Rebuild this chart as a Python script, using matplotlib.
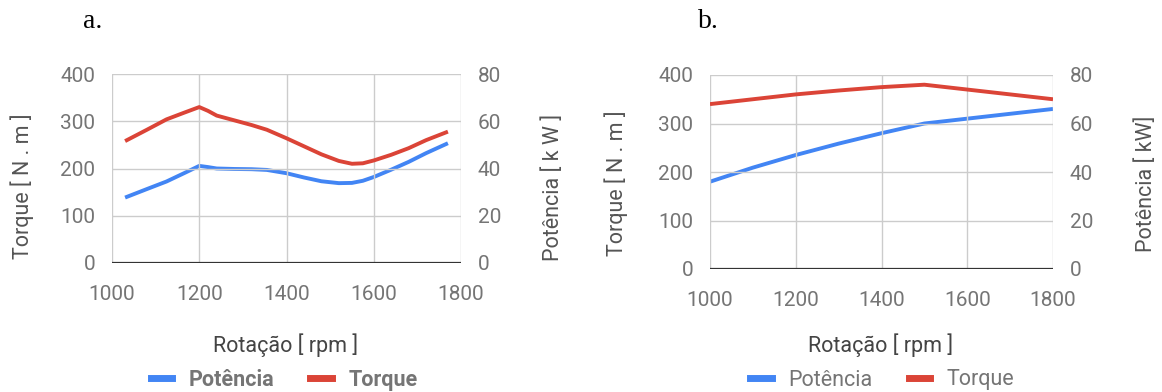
import matplotlib
matplotlib.use("Agg")
import matplotlib.pyplot as plt
from matplotlib.lines import Line2D

# ---------------- data ----------------
rpm_a = [1030, 1080, 1125, 1165, 1200, 1220, 1240, 1280, 1320, 1355, 1400, 1440, 1480,
         1520, 1550, 1575, 1600, 1640, 1680, 1720, 1770]
torque_a = [258, 282, 304, 318, 330, 322, 312, 302, 292, 282, 264, 247, 230,
            216, 210, 211, 217, 229, 243, 260, 278]
power_a = [27.7, 31.3, 34.5, 38.0, 41.1, 40.6, 40.0, 39.8, 39.7, 39.4, 38.0, 36.2, 34.6,
           33.8, 33.9, 34.8, 36.4, 39.5, 42.8, 46.5, 50.7]

rpm_b = [1000, 1100, 1200, 1300, 1400, 1500, 1600, 1700, 1800]
torque_b = [340, 350, 360, 368, 375, 380, 370, 360, 350]
power_b = [36, 41.8, 47, 51.7, 56, 60, 62, 64, 66]

x_ticks = [1000, 1200, 1400, 1600, 1800]
torque_ticks = [0, 100, 200, 300, 400]
power_ticks = [0, 20, 40, 60, 80]

panel_letters = ["a.", "b."]
xlabel = "Rotação [ rpm ]"
torque_label = "Torque [ N . m ]"
power_labels = ["Potência [ k W ]", "Potência [ kW]"]
series_names = ["Potência", "Torque"]

# ---------------- style ----------------
BLUE = "#4285F4"
RED = "#DB4437"
TICK_C = "#757575"
LABEL_C = "#555555"
GRID_C = "#cccccc"
FONT = "Roboto"

W, H = 1162, 392
fig = plt.figure(figsize=(W / 100, H / 100), dpi=100)


def px_rect(x0, x1, ytop, ybot):
    return [x0 / W, (H - ybot) / H, (x1 - x0) / W, (ybot - ytop) / H]


def make_panel(rect, rpm, torque, power):
    ax = fig.add_axes(rect)
    ax2 = ax.twinx()
    ax.set_xlim(1000, 1800)
    ax.set_ylim(0, 400)
    ax2.set_ylim(0, 80)
    ax.set_xticks(x_ticks)
    ax.set_yticks(torque_ticks)
    ax2.set_yticks(power_ticks)
    for a in (ax, ax2):
        for s in a.spines.values():
            s.set_visible(False)
        a.tick_params(length=0, labelsize=15, labelcolor=TICK_C)
        for lab in a.get_xticklabels() + a.get_yticklabels():
            lab.set_fontfamily(FONT)
    ax.tick_params(axis="y", pad=12)
    ax2.tick_params(axis="y", pad=12)
    ax.tick_params(axis="x", pad=16)
    ax.grid(True, color=GRID_C, lw=1.0)
    ax.set_axisbelow(True)
    ax.axhline(0, color="#333333", lw=1.6, zorder=3)
    ax2.plot(rpm, power, color=BLUE, lw=2.8, solid_capstyle="butt", solid_joinstyle="round", zorder=4)
    ax.plot(rpm, torque, color=RED, lw=2.8, solid_capstyle="butt", solid_joinstyle="round", zorder=4)
    ax.set_zorder(ax2.get_zorder() + 1)
    ax.patch.set_visible(False)
    return ax, ax2


axA = make_panel(px_rect(112, 461, 74, 263), rpm_a, torque_a, power_a)
axB = make_panel(px_rect(710, 1053, 75, 269), rpm_b, torque_b, power_b)


def ftext(x, y, s, **kw):
    fig.text(x / W, (H - y) / H, s, **kw)


# panel letters
ftext(93, 22, panel_letters[0], fontsize=20, family="Liberation Serif", ha="center", va="center", color="black")
ftext(708, 21, panel_letters[1], fontsize=20, family="Liberation Serif", ha="center", va="center", color="black")

# axis labels
LS = 15.5
for cx in (286, 881):
    ftext(cx, 345, xlabel, fontsize=LS, family=FONT, ha="center", va="center", color="#444444")
ftext(22, 186, torque_label, fontsize=LS, family=FONT, ha="center", va="center", rotation=90, color=LABEL_C)
ftext(616, 183, torque_label, fontsize=LS, family=FONT, ha="center", va="center", rotation=90, color=LABEL_C)
ftext(553, 187, power_labels[0], fontsize=LS, family=FONT, ha="center", va="center", rotation=90, color=LABEL_C)
ftext(1146, 184, power_labels[1], fontsize=LS, family=FONT, ha="center", va="center", rotation=90, color=LABEL_C)

# legends
handles = [Line2D([0], [0], color=BLUE, lw=5), Line2D([0], [0], color=RED, lw=5)]
for cx, weight in ((284, "bold"), (882, "normal")):
    leg = fig.legend(handles, series_names, loc="center", bbox_to_anchor=(cx / W, (H - 380) / H),
                     ncol=2, frameon=False, handlelength=1.0, handletextpad=0.75, columnspacing=1.7,
                     prop={"family": FONT, "size": 15.5, "weight": weight}, borderaxespad=0, borderpad=0)
    for t in leg.get_texts():
        t.set_color(TICK_C)

fig.savefig("out.png", dpi=100)
